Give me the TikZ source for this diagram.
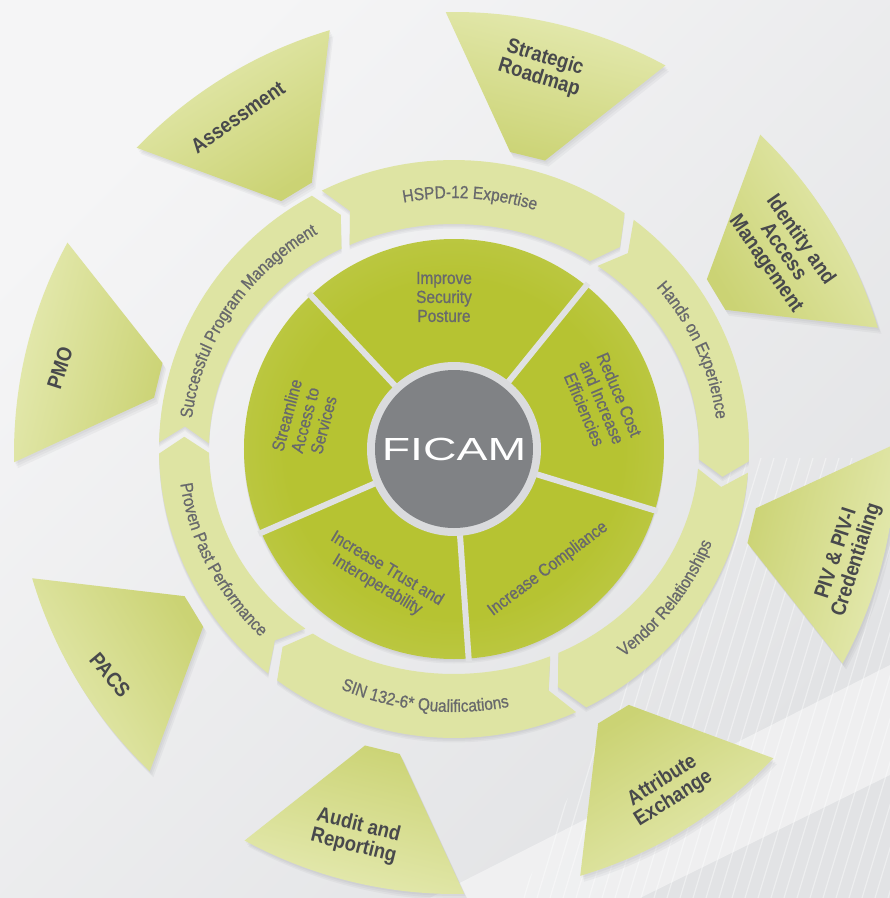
\documentclass[tikz,border=0pt]{standalone}
\usepackage{fontspec}
\setmainfont{Liberation Sans}
\newfontfamily\petalfont{Liberation Sans}[FakeStretch=0.88]
\newfontfamily\lblfont{Liberation Sans}[FakeStretch=0.88, FakeBold=0.8]
\newfontfamily\ficamfont{Liberation Sans}[FakeStretch=1.45]
\usetikzlibrary{decorations.text}

\definecolor{bgA}{RGB}{245,245,246}
\definecolor{bgB}{RGB}{226,227,229}
\definecolor{petalL}{RGB}{229,234,178}
\definecolor{petalD}{RGB}{203,211,116}
\definecolor{ringC}{RGB}{222,228,163}
\definecolor{diskIn}{RGB}{182,195,50}
\definecolor{diskOut}{RGB}{211,218,134}
\definecolor{divC}{RGB}{224,225,227}
\definecolor{ficamC}{RGB}{128,130,133}
\definecolor{ficamR}{RGB}{218,219,221}
\definecolor{txtC}{RGB}{104,105,108}
\definecolor{petalT}{RGB}{72,73,76}
\definecolor{shadowC}{RGB}{120,122,128}

\pgfdeclareradialshading{diskshade}{\pgfpoint{0bp}{0bp}}{color(0bp)=(diskIn); color(20bp)=(diskIn); color(50bp)=(diskOut)}

\newcommand\rfont{\lblfont\fontsize{17.5}{19}\selectfont}

\begin{document}
\begin{tikzpicture}[x=1pt,y=1pt,
  declare function={ri(\x)=235+10*cos(2*\x); ro(\x)=292+3*cos(2*\x); tm(\x)=263.5+6.5*cos(2*\x);},
  petal/.style={top color=petalL, bottom color=petalD},
  shadowlayer/.style={fill=shadowC, opacity=0.07},
  ringseg/.style={fill=ringC},
  stripe/.style={white, opacity=0.4, line width=1.2pt},
  divider/.style={divC, line width=6pt},
  ptxt/.style={text=petalT, font={\petalfont\bfseries\fontsize{21}{21}\selectfont}, align=center, inner sep=0pt},
  itxt/.style={text=txtC, font={\lblfont\fontsize{17.5}{19}\selectfont}, align=center, inner sep=0pt},
  ringtext/.style={decorate, decoration={text along path, text align=center, text color=txtC, text={|\rfont|#1}}}
]
\useasboundingbox (-454,-449) rectangle (436,449);
\clip (-454,-449) rectangle (436,449);
\shade[top color=bgA, bottom color=bgB, shading angle=45] (-454,-449) rectangle (436,449);

% decorative stripes and light band
\begin{scope}
  \clip (66,-449) -- (436,-449) -- (436,20) -- (290,20) -- cycle;
  \foreach \i in {0,...,45} \draw[stripe] ({-60+13*\i},-449) -- ++(133,440);
\end{scope}
\fill[white, opacity=0.45] (-24,-449) -- (436,-216) -- (436,-326) -- (186,-449) -- cycle;

% outer petals
\begin{scope}[shift={(1,-4)}]
\foreach \k in {0,...,7} {
  \pgfmathsetmacro\rr{45*\k}
  \pgfmathsetmacro\sa{\rr-13.6}
  \pgfmathsetmacro\pa{91.2+\rr}
  \pgfmathsetmacro\pb{61.5+\rr}
  \pgfmathsetmacro\pc{72.9+\rr}
  \pgfmathsetmacro\pd{79.6+\rr}
  \foreach \j in {1,2,3}
    \fill[shadowlayer, xshift={1.2*\j}, yshift={-2*\j}] (\pa:441) arc[start angle=\pa, end angle=\pb, radius=441] -- (\pc:306) -- (\pd:306) -- cycle;
  \shade[petal, shading angle=\sa] (\pa:441) arc[start angle=\pa, end angle=\pb, radius=441] -- (\pc:306) -- (\pd:306) -- cycle;
}
\end{scope}

% ring segments (chevron chain)
\foreach \a/\c in {179.8/118.2, 118.2/53, 53/-3.5, -3.5/-64, -64/-128.5, -128.5/-180.2} {
  \pgfmathsetmacro\A{\a-1.1}
  \pgfmathsetmacro\C{\c+1.1}
  \pgfmathsetmacro\Ad{\A-3.5}
  \pgfmathsetmacro\Cd{\C-3.5}
  \pgfmathsetmacro\rA{(ro(\A)+ri(\A))/2}
  \pgfmathsetmacro\rC{(ro(\C)+ri(\C))/2}
  \foreach \j in {1,2,3}
    \fill[shadowlayer, yshift={-1.5*\j}] plot[domain=\A:\C, samples=30, variable=\t] (\t:{ro(\t)}) -- (\Cd:\rC)
     -- plot[domain=\C:\A, samples=30, variable=\t] (\t:{ri(\t)}) -- (\Ad:\rA) -- cycle;
  \fill[ringseg] plot[domain=\A:\C, samples=30, variable=\t] (\t:{ro(\t)}) -- (\Cd:\rC)
     -- plot[domain=\C:\A, samples=30, variable=\t] (\t:{ri(\t)}) -- (\Ad:\rA) -- cycle;
}

% ring labels
\path[ringtext={HSPD-12 Expertise}] plot[domain=116.4:56.4, samples=40, variable=\t] (\t:{tm(\t)-6});
\path[ringtext={Hands on Experience}] plot[domain=52.7:-7.3, samples=40, variable=\t] (\t:{tm(\t)-6});
\path[ringtext={Successful Program Management}] plot[domain=179.5:115.9, samples=40, variable=\t] (\t:{tm(\t)-6});
\path[ringtext={Vendor Relationships}] plot[domain=-65.6:-5.6, samples=40, variable=\t] (\t:{tm(\t)+6});
\path[ringtext={SIN 132-6* Qualifications}] plot[domain=-126.5:-66.5, samples=40, variable=\t] (\t:{tm(\t)+6});
\path[ringtext={Proven Past Performance}] plot[domain=175.9:235.9, samples=40, variable=\t] (\t:{tm(\t)+6});

% inner disk
\foreach \j in {1,2,3} \fill[shadowlayer, yshift={-1.5*\j}] (0,0) circle[radius=210];
\shade[shading=diskshade] (0,0) circle[radius=210];
\foreach \ang in {133,51,-17,-86,203.5} \draw[divider] (\ang:80) -- (\ang:213);

% centre
\node[circle, fill=ficamR, minimum size=174, inner sep=0pt] (ficamring) at (0,0) {};
\node[circle, fill=ficamC, minimum size=158, inner sep=0pt, text=white, font={\ficamfont\fontsize{32}{32}\selectfont}] (ficam) at (0,0) {FICAM};

% inner labels
\node[itxt] (improve) at (-10,152) {Improve\\Security\\Posture};
\node[itxt, rotate=-67] (reduce) at (148,47) {Reduce Cost\\and Increase\\Efficiencies};
\node[itxt, rotate=37] (compliance) at (94,-120) {Increase Compliance};
\node[itxt, rotate=-31] (trust) at (-72,-128) {Increase Trust and\\Interoperability};
\node[itxt, rotate=75] (streamline) at (-149,29) {Streamline\\Access to\\Services};

% petal labels
\node[ptxt, rotate=-17] (strategic) at (88,381) {Strategic\\Roadmap};
\node[ptxt, rotate=35] (assessment) at (-216,332) {Assessment};
\node[ptxt, rotate=-55] (identity) at (329,197) {Identity and\\Access\\Management};
\node[ptxt, rotate=72] (pmo) at (-394,81) {PMO};
\node[ptxt, rotate=-50] (pacs) at (-344,-226) {PACS};
\node[ptxt, rotate=-14] (audit) at (-98,-387) {Audit and\\Reporting};
\node[ptxt, rotate=32] (attribute) at (214,-341) {Attribute\\Exchange};
\node[ptxt, rotate=72] (piv) at (393,-108) {PIV \& PIV-I\\Credentialing};
\end{tikzpicture}
\end{document}
